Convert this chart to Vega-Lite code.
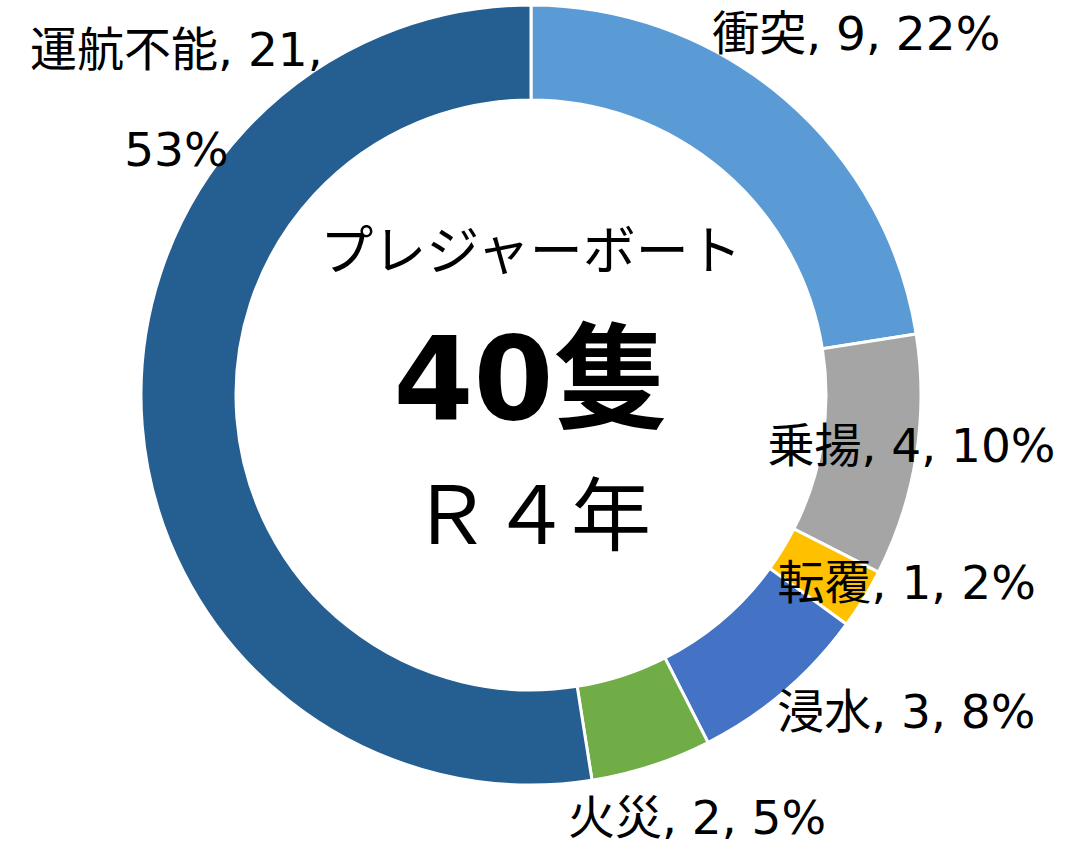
{
  "$schema": "https://vega.github.io/schema/vega-lite/v6.json",
  "width": 1062,
  "height": 790,
  "autosize": {"type": "none"},
  "padding": {"left": 0, "top": 0, "right": 30, "bottom": 56},
  "background": "white",
  "view": {"stroke": null},
  "data": {
    "values": [
      {"idx": 1, "cat": "衝突", "n": 9, "label": "衝突, 9, 22%"},
      {"idx": 2, "cat": "乗揚", "n": 4, "label": "乗揚, 4, 10%"},
      {"idx": 3, "cat": "転覆", "n": 1, "label": "転覆, 1, 2%"},
      {"idx": 4, "cat": "浸水", "n": 3, "label": "浸水, 3, 8%"},
      {"idx": 5, "cat": "火災", "n": 2, "label": "火災, 2, 5%"},
      {"idx": 6, "cat": "運航不能", "n": 21, "label": "運航不能, 21,\n53%"}
    ]
  },
  "transform": [
    {"stack": "n", "groupby": [], "sort": [{"field": "idx", "order": "ascending"}], "as": ["s0", "s1"]},
    {"calculate": "(datum.s0 + datum.s1) / 2", "as": "mid"}
  ],
  "layer": [
    {
      "mark": {"type": "arc", "outerRadius": 390, "innerRadius": 295, "stroke": "white", "strokeWidth": 3},
      "encoding": {
        "theta": {"field": "s0", "type": "quantitative", "stack": null, "scale": {"domain": [0, 40]}},
        "theta2": {"field": "s1"},
        "color": {
          "field": "cat",
          "type": "nominal",
          "scale": {
            "domain": ["衝突", "乗揚", "転覆", "浸水", "火災", "運航不能"],
            "range": ["#5B9BD5", "#A5A5A5", "#FFC000", "#4472C4", "#70AD47", "#255E91"]
          },
          "legend": null
        }
      }
    },
    {
      "transform": [{"filter": "datum.cat === '衝突'"}],
      "mark": {"type": "text", "radius": 450, "dx": 33, "dy": -17, "fontSize": 47, "font": "DejaVu Sans, Noto Sans CJK JP", "fill": "black"},
      "encoding": {"theta": {"field": "mid", "type": "quantitative", "stack": null}, "text": {"field": "label"}}
    },
    {
      "transform": [{"filter": "datum.cat === '乗揚'"}],
      "mark": {"type": "text", "radius": 450, "dx": -64, "dy": -17, "fontSize": 47, "font": "DejaVu Sans, Noto Sans CJK JP", "fill": "black"},
      "encoding": {"theta": {"field": "mid", "type": "quantitative", "stack": null}, "text": {"field": "label"}}
    },
    {
      "transform": [{"filter": "datum.cat === '転覆'"}],
      "mark": {"type": "text", "radius": 450, "dx": -8, "dy": -45, "fontSize": 47, "font": "DejaVu Sans, Noto Sans CJK JP", "fill": "black"},
      "encoding": {"theta": {"field": "mid", "type": "quantitative", "stack": null}, "text": {"field": "label"}}
    },
    {
      "transform": [{"filter": "datum.cat === '浸水'"}],
      "mark": {"type": "text", "radius": 450, "dx": 83, "dy": -23, "fontSize": 47, "font": "DejaVu Sans, Noto Sans CJK JP", "fill": "black"},
      "encoding": {"theta": {"field": "mid", "type": "quantitative", "stack": null}, "text": {"field": "label"}}
    },
    {
      "transform": [{"filter": "datum.cat === '火災'"}],
      "mark": {"type": "text", "radius": 450, "dx": 27, "dy": -3, "fontSize": 47, "font": "DejaVu Sans, Noto Sans CJK JP", "fill": "black"},
      "encoding": {"theta": {"field": "mid", "type": "quantitative", "stack": null}, "text": {"field": "label"}}
    },
    {
      "transform": [{"filter": "datum.cat === '運航不能'"}],
      "mark": {"type": "text", "radius": 450, "dx": 94, "dy": -378, "fontSize": 47, "lineBreak": "\n", "lineHeight": 100, "font": "DejaVu Sans, Noto Sans CJK JP", "fill": "black"},
      "encoding": {"theta": {"field": "mid", "type": "quantitative", "stack": null}, "text": {"field": "label"}}
    },
    {
      "data": {"values": [{"t": "プレジャーボート"}]},
      "mark": {"type": "text", "dy": -141, "fontSize": 53, "font": "Noto Sans CJK JP", "fill": "black"},
      "encoding": {"text": {"field": "t"}}
    },
    {
      "data": {"values": [{"t": "40隻"}]},
      "mark": {"type": "text", "dy": -11, "fontSize": 115, "fontWeight": "bold", "font": "DejaVu Sans, Noto Sans CJK JP", "fill": "black"},
      "encoding": {"text": {"field": "t"}}
    },
    {
      "data": {"values": [{"t": "Ｒ４年"}]},
      "mark": {"type": "text", "dy": 125, "fontSize": 80, "font": "Noto Sans CJK JP", "fill": "black"},
      "encoding": {"text": {"field": "t"}}
    }
  ]
}
